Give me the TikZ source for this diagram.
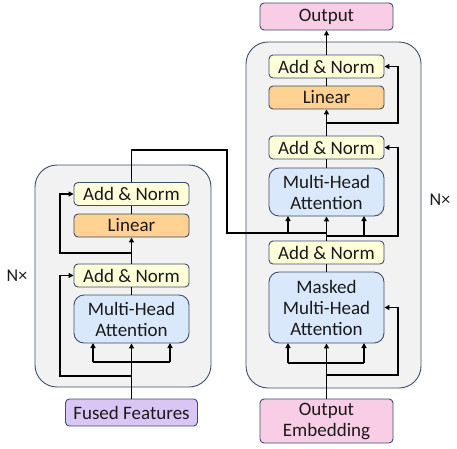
\documentclass[tikz,border=0pt]{standalone}
\usepackage{fontspec}
\setmainfont{Carlito}
\usetikzlibrary{arrows.meta}
\definecolor{bordc}{HTML}{3B4E6B}
\definecolor{grayf}{HTML}{F2F2F2}
\definecolor{anf}{HTML}{FFFFD9}
\definecolor{linf}{HTML}{FFD193}
\definecolor{mhaf}{HTML}{DAE8FC}
\definecolor{purf}{HTML}{D9C6F5}
\definecolor{pinkf}{HTML}{F9CDE6}
\definecolor{txt}{HTML}{1A1A1A}
\begin{document}
\begin{tikzpicture}[x=1pt,y=-1pt,
  blk/.style={draw=bordc,line width=0.9pt,rounded corners=4pt,inner sep=0pt,align=center,text=txt,font=\fontsize{19}{21}\selectfont},
  an/.style={blk,fill=anf,minimum width=115pt,minimum height=23pt},
  lin/.style={blk,fill=linf,minimum width=115pt,minimum height=23pt},
  mha/.style={blk,fill=mhaf,minimum width=115pt,rounded corners=10pt},
  container/.style={draw=bordc,line width=0.9pt,fill=grayf,rounded corners=22pt},
  conn/.style={line width=1.4pt,black},
  arr/.style={conn,-{Triangle[length=5pt,width=5pt]}}
]
\useasboundingbox (0,0) rectangle (457,448);
% containers
\draw[container] (35,165) rectangle (211,387);
\draw[container] (246,42) rectangle (421,388);
% left column
\node[an]  (lan1) at (131.5,194) {Add \& Norm};
\node[lin] (llin) at (131.5,225.5) {Linear};
\node[an]  (lan2) at (131.5,275.5) {Add \& Norm};
\node[mha,minimum height=48pt] (lmha) at (131.5,319) {Multi-Head\\Attention};
\node[blk,fill=purf,minimum width=132pt,minimum height=27pt] (fused) at (131.5,412.5) {Fused Features};
\node[text=txt,font=\fontsize{18}{20}\selectfont,inner sep=0pt] (nxl) at (17,276) {N×};
% right column
\node[blk,fill=pinkf,minimum width=133pt,minimum height=27pt] (out) at (326.5,16.5) {Output};
\node[an]  (ran1) at (326.5,66.5) {Add \& Norm};
\node[lin] (rlin) at (326.5,97.5) {Linear};
\node[an]  (ran2) at (326.5,147.5) {Add \& Norm};
\node[mha,minimum height=48pt] (rmha) at (326.5,192) {Multi-Head\\Attention};
\node[an]  (ran3) at (326.5,252.5) {Add \& Norm};
\node[mha,minimum height=71pt] (rmmha) at (326.5,307.5) {Masked\\Multi-Head\\Attention};
\node[blk,fill=pinkf,minimum width=133pt,minimum height=44pt] (oemb) at (326.5,421) {Output\\Embedding};
\node[text=txt,font=\fontsize{18}{20}\selectfont,inner sep=0pt] (nxr) at (440,200) {N×};
% left connectors
\draw[arr] (fused.north) -- (lmha.south);
\draw[conn] (93,362) -- (170,362);
\draw[arr] (93,362) -- (93,343);
\draw[arr] (170,362) -- (170,343);
\draw[arr] (131.5,376) -- (60,376) -- (60,275.5) -- (lan2.west);
\draw[conn] (lmha.north) -- (lan2.south);
\draw[arr] (lan2.north) -- (llin.south);
\draw[arr] (131.5,253) -- (60,253) -- (60,194) -- (lan1.west);
\draw[conn] (llin.north) -- (lan1.south);
\coordinate (e1) at (131.5,150);
\coordinate (e2) at (227,150);
\coordinate (e3) at (227,233);
\coordinate (e4) at (326.5,233);
\draw[conn] (lan1.north) -- (e1) -- (e2) -- (e3) -- (e4);
\draw[arr] (288,233) -- (288,216);
% right connectors
\draw[arr] (oemb.north) -- (rmmha.south);
\draw[conn] (288,363) -- (364,363);
\draw[arr] (288,363) -- (288,343);
\draw[arr] (364,363) -- (364,343);
\draw[arr] (326.5,375) -- (398,375) -- (398,307.5) -- (rmmha.east);
\draw[conn] (rmmha.north) -- (ran3.south);
\draw[arr] (ran3.north) -- (rmha.south);
\draw[arr] (326.5,236) -- (398,236) -- (398,147.5) -- (ran2.east);
\draw[arr] (364,236) -- (364,216);
\draw[conn] (rmha.north) -- (ran2.south);
\draw[arr] (ran2.north) -- (rlin.south);
\draw[arr] (326.5,123) -- (398,123) -- (398,66.5) -- (ran1.east);
\draw[conn] (rlin.north) -- (ran1.south);
\draw[arr] (ran1.north) -- (out.south);
\end{tikzpicture}
\end{document}
